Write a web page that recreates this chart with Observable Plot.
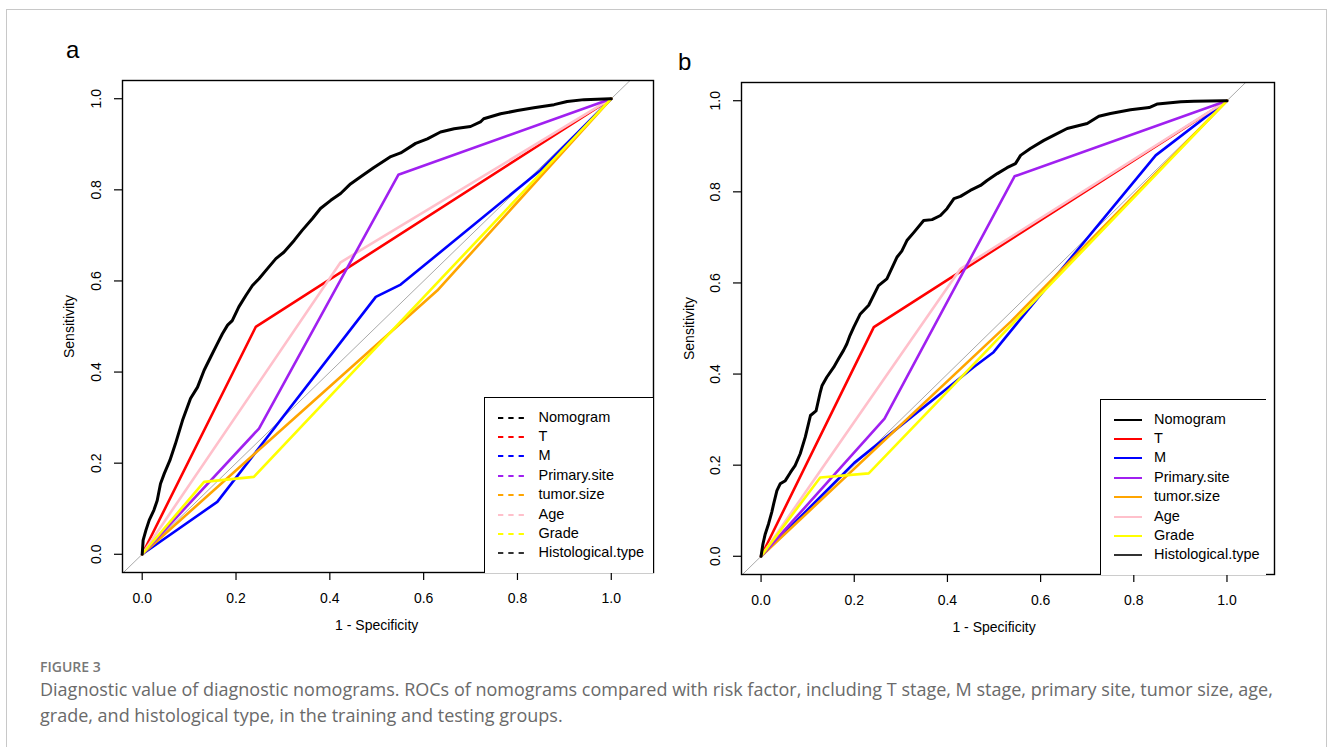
<!DOCTYPE html>
<html>
<head>
<meta charset="utf-8">
<script src="https://cdn.jsdelivr.net/npm/d3@7"></script>
<script src="https://cdn.jsdelivr.net/npm/@observablehq/plot@0.6"></script>
<style>
  html, body { margin: 0; padding: 0; background: #fff; }
  body { width: 1330px; height: 747px; overflow: hidden; position: relative; font-family: "Liberation Sans", Arial, sans-serif; }
  #frame { position: absolute; left: 6px; top: 9px; width: 1321px; height: 800px; border: 1px solid #c8c8c8; box-sizing: border-box; }
  .panel { position: absolute; top: 0; }
  .panel svg { overflow: visible; }
  .plabel { position: absolute; font-family: "Liberation Sans", Arial, sans-serif; font-size: 24px; line-height: 24px; color: #000; }
  .legend { position: absolute; background: #fff; box-sizing: border-box; }
  .legend .item { position: absolute; font-size: 14.5px; line-height: 14.5px; color: #000; white-space: nowrap; }
  .cap { position: absolute; left: 40px; white-space: nowrap; color: #6a6a6a; font-family: "Open Sans", Lato, sans-serif; }
  #figlabel { font-size: 14px; line-height: 14px; font-weight: 600; color: #777; }
  .capline { font-size: 16px; line-height: 16px; }
</style>
</head>
<body>
<div id="frame"></div>
<div id="panelA" class="panel" style="left:0px"></div>
<div id="panelB" class="panel" style="left:660px"></div>
<div class="plabel" style="left:66px;top:38px">a</div>
<div class="plabel" style="left:678px;top:50px">b</div>
<div id="figlabel" class="cap" style="top:660px"></div>
<div id="capline1" class="cap capline" style="top:681px"></div>
<div id="capline2" class="cap capline" style="top:707px"></div>

<script>
// ---------- data ----------
const seriesNames = ["Nomogram", "T", "M", "Primary.site", "tumor.size", "Age", "Grade", "Histological.type"];
const seriesColors = ["#000000", "#FF0000", "#0000FF", "#A020F0", "#FFA500", "#FFC0CB", "#FFFF00", "#333333"];

const xTicks = [0, 0.2, 0.4, 0.6, 0.8, 1.0];
const yTicks = [0, 0.2, 0.4, 0.6, 0.8, 1.0];
const xTitle = "1 - Specificity";
const yTitle = "Sensitivity";
const identityLine = [-0.2, 1.3];

// training group (panel a): [1 - specificity, sensitivity]
const trainNomogram = [[0,0],[0.002,0.031],[0.008,0.053],[0.015,0.075],[0.025,0.097],[0.032,0.118],[0.039,0.155],[0.047,0.177],[0.059,0.206],[0.071,0.243],[0.086,0.294],[0.103,0.342],[0.118,0.367],[0.132,0.404],[0.146,0.433],[0.160,0.462],[0.171,0.484],[0.182,0.503],[0.192,0.513],[0.206,0.543],[0.221,0.568],[0.235,0.590],[0.249,0.605],[0.267,0.627],[0.285,0.649],[0.302,0.663],[0.324,0.689],[0.341,0.711],[0.363,0.737],[0.380,0.759],[0.402,0.777],[0.423,0.792],[0.444,0.813],[0.465,0.828],[0.494,0.849],[0.530,0.873],[0.551,0.881],[0.583,0.902],[0.608,0.912],[0.636,0.927],[0.665,0.934],[0.700,0.939],[0.721,0.949],[0.728,0.956],[0.764,0.967],[0.800,0.974],[0.835,0.980],[0.878,0.987],[0.906,0.994],[0.942,0.998],[0.998,1.0],[1,1]];
const trainT = [[0,0],[0.242,0.499],[1,1]];
const trainM = [[0,0],[0.160,0.115],[0.498,0.565],[0.551,0.592],[0.849,0.843],[1,1]];
const trainPrimarySite = [[0,0],[0.249,0.276],[0.546,0.833],[1,1]];
const trainTumorSize = [[0,0],[0.629,0.579],[1,1]];
const trainAge = [[0,0],[0.423,0.641],[1,1]];
const trainGrade = [[0,0],[0.132,0.159],[0.238,0.170],[1,1]];

// testing group (panel b)
const testNomogram = [[0,0],[0.004,0.027],[0.009,0.049],[0.016,0.071],[0.023,0.097],[0.027,0.115],[0.034,0.144],[0.041,0.159],[0.052,0.166],[0.063,0.184],[0.073,0.199],[0.084,0.225],[0.095,0.262],[0.106,0.309],[0.118,0.319],[0.127,0.360],[0.131,0.375],[0.141,0.393],[0.156,0.415],[0.166,0.433],[0.177,0.452],[0.184,0.466],[0.191,0.485],[0.199,0.503],[0.213,0.532],[0.231,0.551],[0.252,0.594],[0.270,0.609],[0.292,0.657],[0.302,0.670],[0.313,0.693],[0.328,0.711],[0.349,0.737],[0.367,0.739],[0.385,0.748],[0.399,0.763],[0.414,0.785],[0.428,0.790],[0.449,0.803],[0.471,0.814],[0.485,0.825],[0.507,0.840],[0.528,0.853],[0.546,0.862],[0.557,0.880],[0.578,0.895],[0.607,0.913],[0.628,0.924],[0.657,0.939],[0.700,0.950],[0.725,0.966],[0.750,0.972],[0.793,0.980],[0.833,0.985],[0.851,0.993],[0.901,0.998],[0.929,0.999],[0.994,1.0],[1,1]];
const testT = [[0,0],[0.242,0.503],[1,1]];
const testM = [[0,0],[0.200,0.205],[0.456,0.415],[0.499,0.448],[0.557,0.521],[0.847,0.880],[1,1]];
const testPrimarySite = [[0,0],[0.265,0.302],[0.544,0.834],[1,1]];
const testTumorSize = [[0,0],[0.536,0.515],[1,1]];
const testAge = [[0,0],[0.428,0.631],[1,1]];
const testGrade = [[0,0],[0.127,0.173],[0.231,0.182],[1,1]];

const captionLabel = "FIGURE 3";
const captionLines = [
  "Diagnostic value of diagnostic nomograms. ROCs of nomograms compared with risk factor, including T stage, M stage, primary site, tumor size, age,",
  "grade, and histological type, in the training and testing groups."
];

// ---------- drawing ----------
const fmt = d3.format(".1f");
const font = "Liberation Sans, Arial, sans-serif";

function rocPanel(cfg) {
  const c = (name) => seriesColors[seriesNames.indexOf(name)];
  const layers = [
    ["T", cfg.T], ["M", cfg.M], ["tumor.size", cfg.tumor], ["Age", cfg.age],
    ["Primary.site", cfg.primary], ["Grade", cfg.grade], ["Nomogram", cfg.nomogram]
  ];
  return Plot.plot({
    width: cfg.width, height: cfg.height,
    marginLeft: cfg.ml, marginRight: cfg.mr, marginTop: cfg.mt, marginBottom: cfg.mb,
    x: { domain: cfg.xDomain },
    y: { domain: [-0.04, 1.04] },
    style: { fontFamily: font, fontSize: "14px", color: "#000", background: "transparent", overflow: "visible" },
    marks: [
      Plot.line(identityLine, { x: d => d, y: d => d, stroke: "#a9a9a9", strokeWidth: 1, clip: true }),
      ...layers.map(([name, data]) => Plot.line(data, {
        x: d => d[0], y: d => d[1], stroke: c(name),
        strokeWidth: name === "Nomogram" ? 3 : 2.6, strokeLinejoin: "round", strokeLinecap: "round"
      })),
      Plot.frame({ stroke: "#000", strokeWidth: 1.4 }),
      Plot.axisX({ ticks: xTicks, tickSize: 8, tickPadding: 13, tickFormat: fmt, label: null, fontSize: 14, stroke: "#000", strokeWidth: 1.2 }),
      Plot.axisY({ ticks: yTicks, tickSize: 8, tickFormat: () => "", label: null, stroke: "#000", strokeWidth: 1.2 }),
      Plot.text(yTicks, { y: d => d, text: d => fmt(d), frameAnchor: "left", dx: -26, rotate: -90, textAnchor: "middle", lineAnchor: "middle", fontSize: 14 }),
      Plot.text([xTitle], { x: () => 0.5, text: d => d, frameAnchor: "bottom", dy: 53, lineAnchor: "middle", fontSize: 14 }),
      Plot.text([yTitle], { y: () => 0.5, text: d => d, frameAnchor: "left", dx: cfg.yTitleDx, rotate: -90, textAnchor: "middle", lineAnchor: "middle", fontSize: 14 })
    ]
  });
}

document.getElementById("panelA").append(rocPanel({
  width: 665, height: 640, ml: 122, mr: 12, mt: 80, mb: 68,
  xDomain: [-0.042, 1.09], yTitleDx: -53,
  nomogram: trainNomogram, T: trainT, M: trainM, primary: trainPrimarySite,
  tumor: trainTumorSize, age: trainAge, grade: trainGrade
}));

document.getElementById("panelB").append(rocPanel({
  width: 625, height: 640, ml: 81, mr: 11, mt: 82, mb: 66,
  xDomain: [-0.042, 1.102], yTitleDx: -52,
  nomogram: testNomogram, T: testT, M: testM, primary: testPrimarySite,
  tumor: testTumorSize, age: testAge, grade: testGrade
}));

function legend(opts) {
  const box = document.createElement("div");
  box.className = "legend";
  Object.assign(box.style, {
    left: opts.left + "px", top: opts.top + "px", width: opts.width + "px", height: opts.height + "px",
    borderTop: "1.4px solid #000", borderLeft: "1.4px solid #000",
    borderRight: opts.rightBorder ? "1.4px solid #000" : "none"
  });
  seriesNames.forEach((name, i) => {
    const yc = 20 + i * 19.4;
    const ns = "http://www.w3.org/2000/svg";
    const svg = document.createElementNS(ns, "svg");
    svg.setAttribute("width", 40); svg.setAttribute("height", 6);
    svg.style.position = "absolute";
    svg.style.left = opts.lineX0 + "px";
    svg.style.top = (yc - 3) + "px";
    const ln = document.createElementNS(ns, "line");
    ln.setAttribute("x1", 0); ln.setAttribute("x2", opts.lineLen);
    ln.setAttribute("y1", 3); ln.setAttribute("y2", 3);
    ln.setAttribute("stroke", seriesColors[i]);
    ln.setAttribute("stroke-width", 2);
    if (opts.dashed) ln.setAttribute("stroke-dasharray", "5.3,5");
    svg.append(ln);
    box.append(svg);
    const t = document.createElement("div");
    t.className = "item";
    t.textContent = name;
    t.style.left = opts.textX + "px";
    t.style.top = (yc - 8) + "px";
    box.append(t);
  });
  document.body.append(box);
}

legend({ left: 483.5, top: 396.5, width: 170, height: 176, dashed: true, rightBorder: true, lineX0: 13, lineLen: 26, textX: 54 });
legend({ left: 1100, top: 398.5, width: 166, height: 176, dashed: false, rightBorder: false, lineX0: 13, lineLen: 28, textX: 53 });

// caption: size the font so that the first line spans the same width as in the reference
document.getElementById("figlabel").textContent = captionLabel;
const l1 = document.getElementById("capline1");
const l2 = document.getElementById("capline2");
l1.textContent = captionLines[0];
l2.textContent = captionLines[1];
const target = 1242;
const w = l1.getBoundingClientRect().width;
const fs = Math.min(18, 16 * target / w);
l1.style.fontSize = fs + "px";
l2.style.fontSize = fs + "px";
</script>
</body>
</html>
